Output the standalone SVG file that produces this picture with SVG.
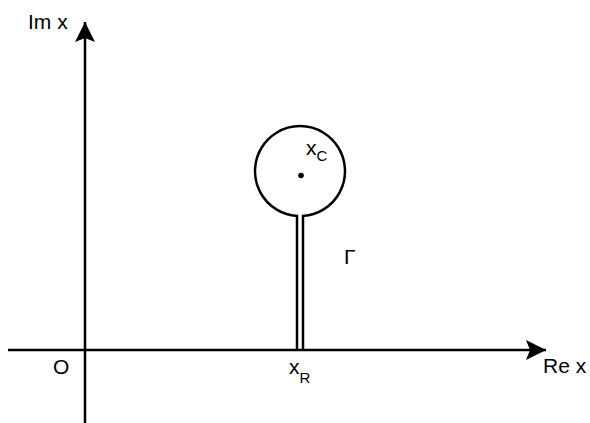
<svg xmlns="http://www.w3.org/2000/svg" width="590" height="423" viewBox="0 0 590 423">
<style>
.ax{stroke:#000;stroke-width:2.5;fill:none}
.t{font-family:"Liberation Sans",Arial,sans-serif;font-size:21px;fill:#000}
.s{font-size:15px}
</style>
<defs>
<marker id="ah" markerUnits="userSpaceOnUse" markerWidth="20" markerHeight="20" viewBox="0 0 20 20" refX="20" refY="10" orient="auto">
<path d="M0,0 L20,10 L0,20 L4,10 Z" fill="#000"/>
</marker>
</defs>
<rect width="590" height="423" fill="#fff"/>
<g id="connectors">
<line class="ax" x1="85" y1="423" x2="85" y2="22" marker-end="url(#ah)"/>
<line class="ax" x1="8" y1="350" x2="546" y2="350" marker-end="url(#ah)"/>
</g>
<g id="contour">
<path class="ax" d="M297,350 V216 A45,45 0 1 1 303,216 V350"/>
<circle cx="301" cy="175.5" r="2.8" fill="#000"/>
</g>
<g id="labels">
<text class="t" x="28" y="29">Im x</text>
<text class="t" x="543" y="373">Re x</text>
<text class="t" x="53" y="374">O</text>
<text class="t" x="289" y="374">x<tspan class="s" dy="9">R</tspan></text>
<text class="t" x="306" y="155">x<tspan class="s" dy="6">C</tspan></text>
<text class="t" x="344" y="264">Γ</text>
</g>
</svg>
